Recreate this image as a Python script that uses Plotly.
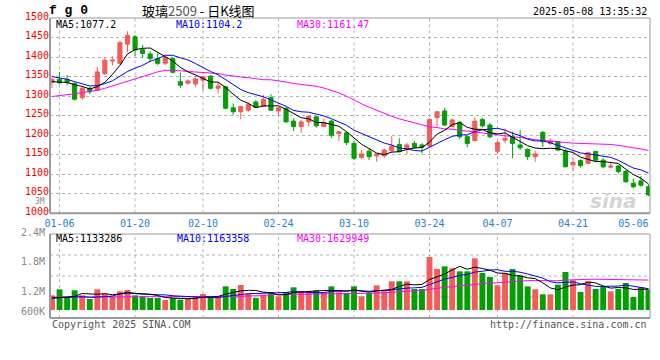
import plotly.graph_objects as go

# ---------------- data ----------------
trading_days = {
    1: [3, 6, 7, 8, 9, 10, 13, 14, 15, 16, 17, 20, 21, 22, 23, 24, 27],
    2: [5, 6, 7, 10, 11, 12, 13, 14, 17, 18, 19, 20, 21, 24, 25, 26, 27, 28],
    3: [3, 4, 5, 6, 7, 10, 11, 12, 13, 14, 17, 18, 19, 20, 21, 24, 25, 26, 27, 28, 31],
    4: [1, 2, 3, 7, 8, 9, 10, 11, 14, 15, 16, 17, 18, 21, 22, 23, 24, 25, 28, 29, 30],
    5: [6, 7, 8],
}
dates = [f"2025-{m:02d}-{d:02d}" for m, days in trading_days.items() for d in days]

open_ = [1335, 1343, 1343, 1332, 1296, 1320, 1315, 1358, 1390, 1384,
         1433, 1452, 1419, 1408, 1396, 1384, 1396, 1337, 1333, 1331,
         1341, 1351, 1320, 1324, 1270, 1260, 1264, 1285, 1274, 1296,
         1262, 1268, 1236, 1222, 1234, 1247, 1222, 1236, 1204, 1206,
         1179, 1143, 1159, 1147, 1147, 1160, 1176, 1165, 1179, 1175,
         1172, 1245, 1262, 1222, 1233, 1196, 1186, 1240, 1226, 1159,
         1187, 1196, 1175, 1164, 1145, 1207, 1179, 1183, 1159, 1124,
         1135, 1128, 1158, 1136, 1118, 1121, 1107, 1077, 1083, 1068]
high = [1347, 1361, 1354, 1337, 1324, 1324, 1375, 1398, 1402, 1442,
        1466, 1456, 1431, 1414, 1411, 1403, 1399, 1360, 1343, 1350,
        1351, 1354, 1337, 1326, 1281, 1275, 1284, 1290, 1303, 1305,
        1273, 1273, 1243, 1239, 1251, 1249, 1243, 1239, 1211, 1209,
        1185, 1162, 1166, 1153, 1166, 1198, 1192, 1181, 1185, 1179,
        1243, 1262, 1270, 1243, 1237, 1200, 1245, 1245, 1232, 1186,
        1217, 1209, 1213, 1166, 1160, 1211, 1192, 1186, 1164, 1141,
        1138, 1158, 1159, 1141, 1132, 1124, 1111, 1089, 1095, 1074]
low = [1321, 1331, 1328, 1289, 1290, 1305, 1313, 1354, 1378, 1379,
       1412, 1403, 1399, 1388, 1379, 1379, 1358, 1321, 1330, 1324,
       1314, 1317, 1307, 1266, 1252, 1241, 1260, 1269, 1273, 1262,
       1249, 1233, 1211, 1206, 1222, 1219, 1221, 1193, 1185, 1175,
       1136, 1139, 1136, 1132, 1142, 1158, 1156, 1151, 1164, 1153,
       1170, 1222, 1224, 1221, 1189, 1169, 1186, 1220, 1192, 1152,
       1179, 1141, 1162, 1136, 1132, 1169, 1175, 1159, 1118, 1109,
       1117, 1126, 1132, 1115, 1115, 1102, 1078, 1064, 1068, 1044]
close = [1343, 1334, 1335, 1292, 1320, 1311, 1362, 1392, 1392, 1437,
         1456, 1418, 1409, 1396, 1384, 1399, 1361, 1328, 1339, 1344,
         1350, 1320, 1326, 1269, 1260, 1273, 1279, 1271, 1292, 1264,
         1270, 1234, 1222, 1234, 1249, 1224, 1232, 1200, 1209, 1181,
         1141, 1152, 1145, 1152, 1162, 1172, 1158, 1175, 1169, 1169,
         1240, 1260, 1226, 1239, 1196, 1179, 1236, 1224, 1196, 1181,
         1192, 1179, 1168, 1145, 1152, 1183, 1185, 1162, 1119, 1130,
         1122, 1155, 1136, 1119, 1121, 1107, 1081, 1068, 1072, 1047]
volume = [798e3, 1125e3, 690e3, 1071e3, 798e3, 599e3, 1125e3, 871e3, 744e3, 1016e3,
          1089e3, 798e3, 744e3, 653e3, 653e3, 544e3, 653e3, 563e3, 653e3, 744e3,
          871e3, 726e3, 690e3, 1288e3, 1143e3, 1361e3, 871e3, 653e3, 835e3, 980e3,
          744e3, 980e3, 1234e3, 1016e3, 1016e3, 1071e3, 962e3, 1288e3, 962e3, 925e3,
          1288e3, 744e3, 925e3, 1343e3, 1016e3, 1561e3, 1561e3, 1561e3, 1143e3, 1143e3,
          2885e3, 2232e3, 2377e3, 2268e3, 2105e3, 2105e3, 2813e3, 2014e3, 1797e3, 1343e3,
          2014e3, 2232e3, 1887e3, 1288e3, 1125e3, 853e3, 853e3, 1379e3, 2069e3, 1615e3,
          980e3, 1561e3, 1143e3, 1252e3, 1016e3, 1143e3, 1470e3, 708e3, 1234e3, 1107e3]

# moving-average values at the first bars (they depend on earlier, unseen sessions)
ma5_head = [1337, 1336, 1335, 1329]
ma10_head = [1350, 1347, 1343, 1337, 1331, 1326, 1327, 1332, 1339]
ma30_head = [1299, 1301, 1303, 1306, 1309, 1312, 1315, 1320, 1326, 1333,
             1338, 1344, 1351, 1357, 1362, 1366, 1366, 1365, 1363, 1362,
             1361, 1360, 1358, 1354, 1351, 1349, 1347, 1344, 1342]
vma5_head = [650e3, 690e3, 690e3, 740e3]
vma10_head = [650e3, 690e3, 690e3, 710e3, 725e3, 690e3, 690e3, 725e3, 760e3]
vma30_head = [700e3, 700e3, 705e3, 705e3, 708e3, 708e3, 708e3, 710e3, 710e3, 712e3,
              715e3, 715e3, 718e3, 718e3, 720e3, 720e3, 722e3, 722e3, 725e3, 725e3,
              728e3, 730e3, 735e3, 740e3, 745e3, 750e3, 760e3, 770e3, 780e3]

tick_dates = ["2025-01-06", "2025-01-20", "2025-02-10", "2025-02-24", "2025-03-10",
              "2025-03-24", "2025-04-07", "2025-04-21", "2025-05-06"]
grid_dates = tick_dates[:-1]
price_ticks = [1000, 1050, 1100, 1150, 1200, 1250, 1300, 1350, 1400, 1450, 1500]
vol_labels = ["3M", "2.4M", "1.8M", "1.2M", "600K"]
price_legend = ["MA5:1077.2", "MA10:1104.2", "MA30:1161.47"]
vol_legend = ["MA5:1133286", "MA10:1163358", "MA30:1629949"]


def sma(vals, n, head):
    out = []
    for i in range(len(vals)):
        if i < n - 1:
            out.append(head[i])
        else:
            out.append(sum(vals[i - n + 1:i + 1]) / n)
    return out


ma5 = sma(close, 5, ma5_head)
ma10 = sma(close, 10, ma10_head)
ma30 = sma(close, 30, ma30_head)
vma5 = sma(volume, 5, vma5_head)
vma10 = sma(volume, 10, vma10_head)
vma30 = sma(volume, 30, vma30_head)

RED = "#f65b5b"
GREEN = "#00a000"
MONO = "DejaVu Sans Mono"
GRID = "#b4b4b4"
FRAME = "#9a9a9a"
MA_COLORS = ["#000000", "#0000ff", "#ff00ff"]

vol_colors = [RED if c >= o else GREEN for o, c in zip(open_, close)]

fig = go.Figure()
fig.add_trace(go.Candlestick(
    x=dates, open=open_, high=high, low=low, close=close,
    increasing=dict(line=dict(color=RED, width=1), fillcolor=RED),
    decreasing=dict(line=dict(color=GREEN, width=1), fillcolor=GREEN),
    whiskerwidth=0, xaxis="x", yaxis="y", hoverinfo="skip",
))
for vals, col in zip([ma30, ma10, ma5], MA_COLORS[::-1]):
    fig.add_trace(go.Scatter(x=dates, y=vals, mode="lines",
                             line=dict(color=col, width=1), xaxis="x", yaxis="y",
                             hoverinfo="skip"))
fig.add_trace(go.Bar(x=dates, y=volume, marker=dict(color=vol_colors, line=dict(width=0)),
                     xaxis="x", yaxis="y2", hoverinfo="skip"))
for vals, col in zip([vma30, vma10, vma5], MA_COLORS[::-1]):
    fig.add_trace(go.Scatter(x=dates, y=vals, mode="lines",
                             line=dict(color=col, width=1), xaxis="x", yaxis="y2",
                             hoverinfo="skip"))

# layout geometry: plot area spans pixel rows 18..318, columns 50..650
T, B = 18, 42
H = 360 - T - B


def py(pix):
    return (360 - B - pix) / H


def px(pix):
    return (pix - 50) / 600


shapes = []
for d in grid_dates:
    for yr in ["y domain", "y2 domain"]:
        shapes.append(dict(type="line", xref="x", yref=yr, x0=d, x1=d, y0=0, y1=1,
                           line=dict(color=GRID, width=1, dash="dot"), layer="below"))
for f in [0.25, 0.5, 0.75]:
    shapes.append(dict(type="line", xref="x domain", yref="y2 domain", x0=0, x1=1, y0=f, y1=f,
                       line=dict(color=GRID, width=1, dash="dot"), layer="below"))
for yr in ["y domain", "y2 domain"]:
    shapes.append(dict(type="rect", xref="x domain", yref=yr, x0=0, x1=1, y0=0, y1=1,
                       line=dict(color=FRAME, width=1), layer="above"))
    shapes.append(dict(type="line", xref="x domain", yref=yr, x0=0, x1=0, y0=0, y1=1,
                       line=dict(color=FRAME, width=2), layer="above"))
    shapes.append(dict(type="line", xref="x domain", yref=yr, x0=0, x1=1, y0=0, y1=0,
                       line=dict(color=FRAME, width=2), layer="above"))

ann = []


def text(s, x, y, color="#000", size=10, xanchor="left", family=MONO, **kw):
    ann.append(dict(text=s, x=px(x), y=py(y), xref="paper", yref="paper",
                    xanchor=xanchor, yanchor="middle", showarrow=False,
                    font=dict(family=family, size=size, color=color), **kw))


text("<b>f g 0</b>", 47, 10, size=13, family="Liberation Mono")
text("玻璃<span style='color:#555'>2509</span> - 日K线图", 140, 10, size=13,
     family="Noto Sans CJK SC")
text("2025-05-08 13:35:32", 649, 12, xanchor="right")
for s, x, col in zip(price_legend, [54, 174, 295], MA_COLORS):
    text(s, x, 24, color=col)
for s, x, col in zip(vol_legend, [54, 175, 295], MA_COLORS):
    text(s, x, 238, color=col)
for s, y in zip(vol_labels, [201, 232, 261, 291, 311]):
    text(s, 47, y, color="#888888", xanchor="right", size=8 if s == "3M" else 10)
text("Copyright 2025 SINA.COM", 50, 324, color="#555555")
text("http://finance.sina.com.cn", 649, 324, color="#555555", xanchor="right")
text("<b><i>sina</i></b>", 613, 201, color="#d4d4d4", size=20, xanchor="center",
     family="DejaVu Sans")

fig.update_layout(
    width=660, height=360,
    margin=dict(l=50, r=10, t=T, b=B, autoexpand=False),
    paper_bgcolor="white", plot_bgcolor="white",
    showlegend=False, boxgap=0.22, bargap=0.22,
    xaxis=dict(type="category", range=[-0.265, 79.2], anchor="y", automargin=False,
               tickvals=tick_dates, ticktext=[d[5:] for d in tick_dates],
               ticklabelstandoff=3,
               tickfont=dict(family=MONO, size=10, color="#1a87d3"),
               showgrid=False, showline=False, zeroline=False, ticks="",
               rangeslider=dict(visible=False)),
    yaxis=dict(domain=[py(213.3), 1], range=[1000, 1500], tickvals=price_ticks,
               automargin=False, ticklabelshift=-2,
               tickfont=dict(family=MONO, size=10, color="#ff0000"),
               showgrid=True, gridcolor=GRID, griddash="dot", gridwidth=1,
               zeroline=False, showline=False, ticks=""),
    yaxis2=dict(domain=[0, py(234)], range=[-435500, 4137000], anchor="x",
                automargin=False,
                showticklabels=False, showgrid=False, zeroline=False, showline=False),
    annotations=ann, shapes=shapes,
)

fig.write_html("out.html", config={"displayModeBar": False},
               post_script="document.body.style.margin='0';document.body.style.overflow='hidden';")
